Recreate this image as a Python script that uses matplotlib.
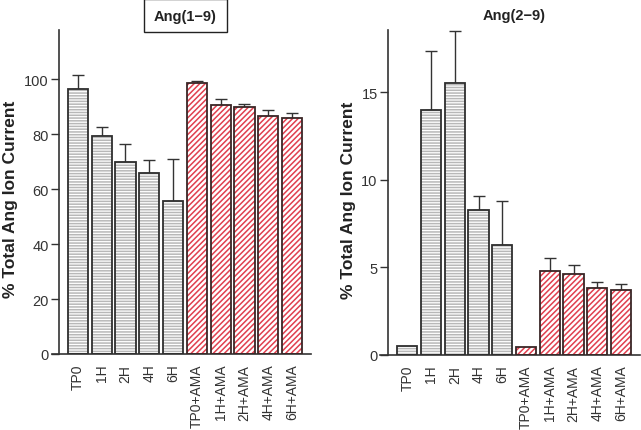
import numpy as np
import matplotlib.pyplot as plt

plt.rcParams['font.family'] = ['Liberation Sans', 'DejaVu Sans']
plt.rcParams['hatch.linewidth'] = 1.1

# data
groups = ['TP0', '1H', '2H', '4H', '6H',
          'TP0+AMA', '1H+AMA', '2H+AMA', '4H+AMA', '6H+AMA']
ang19 = [96.5, 79.5, 70.0, 66.0, 55.6, 98.6, 90.6, 90.0, 86.6, 85.9]
ang19_err = [5.2, 3.3, 6.3, 4.5, 15.5, 0.8, 2.2, 1.0, 2.1, 1.8]
ang29 = [0.5, 14.0, 15.5, 8.3, 6.3, 0.44, 4.82, 4.61, 3.81, 3.73]
ang29_err = [0.0, 3.35, 3.0, 0.8, 2.5, 0.0, 0.7, 0.51, 0.38, 0.31]

GRAY_HATCH = '#b8b8b8'
RED_HATCH = '#e0404f'
EDGE = '#2e2e2e'
AXCOL = '#333333'


def draw_panel(ax, vals, errs, ylim, yticks, spine_pos, xlim, label_x):
    x = np.arange(len(groups))
    vals = np.array(vals)
    errs = np.array(errs)
    ctrl = x < 5
    # hatched fills
    ax.bar(x[ctrl], vals[ctrl], width=0.85, color='white', edgecolor=GRAY_HATCH,
           hatch='------', linewidth=0, zorder=2)
    ax.bar(x[~ctrl], vals[~ctrl], width=0.85, color='white', edgecolor=RED_HATCH,
           hatch='//////', linewidth=0, zorder=2)
    # outlines
    edges = [EDGE if c else '#3a2626' for c in ctrl]
    ax.bar(x, vals, width=0.85, fill=False, edgecolor=edges,
           linewidth=1.3, zorder=3)
    m = errs > 0
    ax.errorbar(x[m], vals[m], yerr=[np.zeros(m.sum()), errs[m]], fmt='none',
                ecolor=AXCOL, elinewidth=1.0, capsize=4, capthick=1.0, zorder=1)
    ax.set_ylim(*ylim)
    ax.set_xlim(*xlim)
    ax.set_yticks(yticks)
    ax.set_xticks(x)
    ax.set_xticklabels(groups, rotation=90, fontsize=10, color=AXCOL)
    ax.tick_params(axis='y', labelsize=10.5, labelcolor=AXCOL, color=AXCOL,
                   length=5.5, width=1, pad=2)
    ax.tick_params(axis='x', length=0, pad=7)
    ax.spines['top'].set_visible(False)
    ax.spines['right'].set_visible(False)
    ax.spines['left'].set_position(('axes', spine_pos))
    for s in ('left', 'bottom'):
        ax.spines[s].set_color(AXCOL)
        ax.spines[s].set_linewidth(1.2)
    ax.set_ylabel('% Total Ang Ion Current', fontsize=12.5, fontweight='bold',
                  color='#222222')
    ax.yaxis.set_label_coords(label_x, 0.48)


fig = plt.figure(figsize=(6.41, 4.31), dpi=100)
ax1 = fig.add_axes([52 / 641, 76 / 431, 259 / 641, 324 / 431])
ax2 = fig.add_axes([380 / 641, 75 / 431, 260 / 641, 325 / 431])

draw_panel(ax1, ang19, ang19_err, (0, 118), [0, 20, 40, 60, 80, 100],
           0.027, (-1.09, 9.8), -0.131)
draw_panel(ax2, ang29, ang29_err, (0, 18.55), [0, 5, 10, 15],
           0.031, (-1.15, 9.8), -0.092)

fig.text(185.5 / 641, 1 - 16.5 / 431, 'Ang(1\u22129)', ha='center', va='center',
         fontsize=10.5, fontweight='bold', color='#222222',
         bbox=dict(boxstyle='square,pad=0.68', fc='white', ec='#222222', lw=1.0))
fig.text(514 / 641, 1 - 16 / 431, 'Ang(2\u22129)', ha='center', va='center',
         fontsize=10.5, fontweight='bold', color='#222222')

fig.savefig('out.png', dpi=100)
